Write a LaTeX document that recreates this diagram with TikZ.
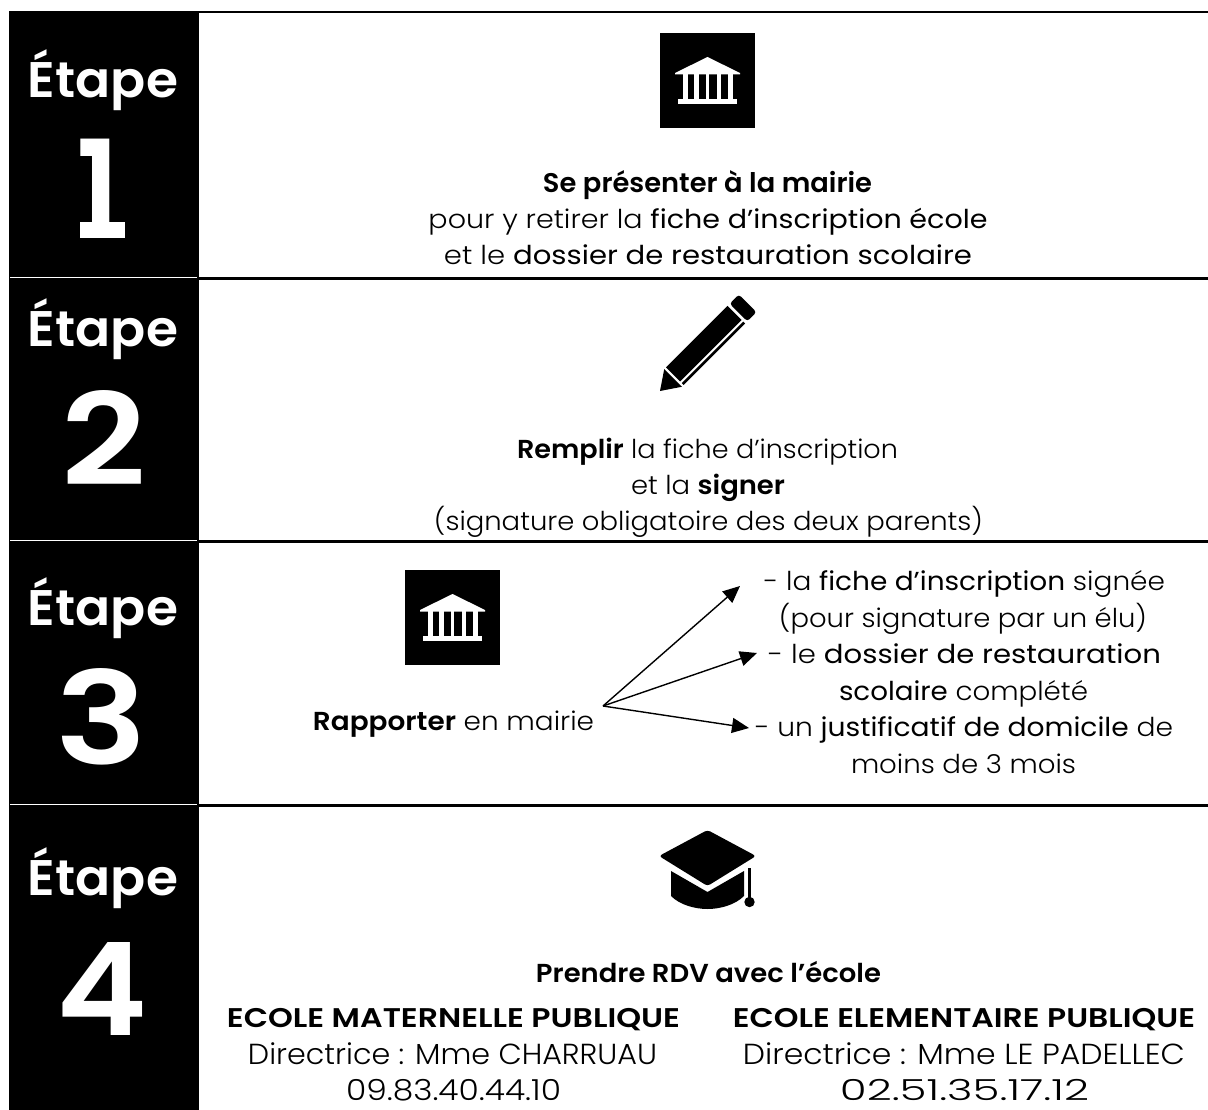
\documentclass[tikz,border=0pt]{standalone}
\usepackage{fontspec}
\usepackage{graphicx}
\setmainfont{Poppins Light}
\newfontfamily\fm{Poppins}
\newfontfamily\fs{Poppins SemiBold}
\newcommand{\M}[1]{{\fm #1}}
\newcommand{\B}[1]{{\fs #1}}
\newcommand{\fw}[2]{\resizebox{#1pt}{\height}{#2}}
\usetikzlibrary{arrows.meta}
\tikzset{
 x=1pt,y=-1pt,
 bar/.style={fill=black,draw=none},
 sep/.style={line width=3pt,black},
 step label/.style={anchor=base,text=white,font=\fs\fontsize{50}{50}\selectfont,inner sep=0pt},
 step digit/.style={anchor=base,text=white,font=\fs\fontsize{135}{135}\selectfont,inner sep=0pt},
 txt/.style={anchor=base,inner sep=0pt,font=\fontsize{26}{26}\selectfont,black},
 bigtxt/.style={txt,font=\fontsize{29}{29}\selectfont},
 ar/.style={line width=1.4pt,-{Triangle[length=17pt,width=15pt]}}
}
\newcommand{\temple}[2]{%
 \begin{scope}[shift={(#1,#2)}]
 \fill[black] (0,0) rectangle (95,95);
 \fill[white] (15,40) -- (47.5,24) -- (80,40) -- (80,41.5) -- (15,41.5) -- cycle;
 \foreach \xa/\xb in {23/28,34/39,46/49,57/61,68/73} {\fill[white] (\xa,41) rectangle (\xb,67);}
 \fill[white] (18,66) rectangle (77,71);
 \end{scope}}
\begin{document}
\begin{tikzpicture}
\useasboundingbox (0,0) rectangle (1208,1110);
\fill[white] (0,0) rectangle (1208,1110);
\fill[bar] (9,11) rectangle (199,1110);
\draw[white,line width=1pt] (10,278) -- (197,278);
\draw[white,line width=1pt] (10,540) -- (197,540);
\draw[white,line width=1pt] (10,804) -- (197,804);
\coordinate (tl) at (199,12);\coordinate (tr) at (1208,12);
\coordinate (al) at (199,279);\coordinate (ar1) at (1208,279);
\coordinate (bl) at (199,541);\coordinate (br) at (1208,541);
\coordinate (cl) at (199,805);\coordinate (cr) at (1208,805);
\draw[black,line width=2pt] (tl)--(tr);
\draw[sep] (al)--(ar1);
\draw[sep] (bl)--(br);
\draw[sep] (cl)--(cr);
\node[step label] (e1) at (103,98) {\fw{150}{Étape}};
\node[step digit] (d1) at (98.7,238) {\scalebox{0.89}[1]{1}};
\fill[white] (80,222) rectangle (125,238);
\node[step label] (e2) at (103,346) {\fw{150}{Étape}};
\node[step digit] (d2) at (104.3,485) {\resizebox{85pt}{95pt}{2}};
\node[step label] (e3) at (103,625) {\fw{150}{Étape}};
\node[step digit] (d3) at (102,764) {\resizebox{92pt}{96pt}{3}};
\node[step label] (e4) at (103,895) {\fw{150}{Étape}};
\node[step digit] (d4) at (102,1035) {\resizebox{91pt}{93pt}{4}};
\temple{660}{33}
\node[txt,font=\fontsize{27}{27}\selectfont] (t1a) at (707.5,193) {\fw{329}{\B{Se présenter à la mairie}}};
\node[txt] (t1b) at (708,229) {\fw{559}{pour y retirer la \M{fiche d’inscription école}}};
\node[txt] (t1c) at (708,265) {\fw{528}{et le \M{dossier de restauration scolaire}}};
% pencil
\begin{scope}[shift={(660,391)},rotate=45]
 \fill[black] (0,0) -- (18.5,-12.5) -- (18.5,12.5) -- cycle;
 \fill[black] (21,-12.5) rectangle (108,7.5);
 \fill[black] (21,9.8) rectangle (108,12.5);
 \fill[black,rounded corners=3pt] (111,-12.5) -- (124,-12.5) -- (124,12.5) -- (111,12.5) -- cycle;
\end{scope}
\node[txt] (t2a) at (707.5,458) {\fw{381}{\B{Remplir} la fiche d’inscription}};
\node[txt] (t2b) at (708,494) {\fw{154}{et la \B{signer}}};
\node[txt] (t2c) at (708.5,530) {\fw{549}{(signature obligatoire des deux parents)}};
\temple{405}{570}
\node[txt] (t3) at (453.5,730) {\fw{281}{\B{Rapporter} en mairie}};
\coordinate (o) at (603,706);
\coordinate (a1) at (740,586);
\coordinate (a2) at (757,653);
\coordinate (a3) at (749,728);
\draw[ar] (o)--(a1);
\draw[ar] (o)--(a2);
\draw[ar] (o)--(a3);
\node[txt] (r1) at (964.5,590) {\fw{401}{- la \M{fiche d’inscription} signée}};
\node[txt] (r2) at (963,627) {\fw{368}{(pour signature par un élu)}};
\node[txt] (r3) at (964.5,663) {\fw{393}{- le \M{dossier de restauration}}};
\node[txt] (r4) at (963.5,700) {\fw{249}{\M{scolaire} complété}};
\node[txt] (r5) at (964,736) {\fw{418}{- un \M{justificatif de domicile} de}};
\node[txt] (r6) at (963.5,773) {\fw{225}{moins de 3 mois}};
% cap
\begin{scope}[shift={(640,820)}]
 \fill[black,rounded corners=3pt] (19,36) -- (67.5,10) -- (116,36) -- (67.5,66) -- cycle;
 \fill[black] (31,51) -- (67.5,72) -- (104,51) -- (104,76) .. controls (95,85) and (80,89) .. (67.5,89) .. controls (55,89) and (40,85) .. (31,76) -- cycle;
 \fill[black] (108,48) rectangle (111.2,78);
 \fill[black] (109.5,82) circle (5.2);
\end{scope}
\node[txt] (t4) at (708.5,982) {\fw{345}{\B{Prendre RDV avec l’école}}};
\node[txt,font=\fontsize{27}{27}\selectfont] (m1) at (453.5,1027) {\fw{453}{\B{ECOLE MATERNELLE PUBLIQUE}}};
\node[bigtxt] (m2) at (452.5,1064) {\fw{409}{Directrice : Mme CHARRUAU}};
\node[bigtxt] (m3) at (453.5,1100) {\fw{215}{09.83.40.44.10}};
\node[txt,font=\fontsize{27}{27}\selectfont] (p1) at (964,1027) {\fw{462}{\B{ECOLE ELEMENTAIRE PUBLIQUE}}};
\node[bigtxt] (p2) at (964,1064) {\fw{442}{Directrice : Mme LE PADELLEC}};
\node[bigtxt] (p3) at (964.5,1100) {\fw{249}{02.51.35.17.12}};
\end{tikzpicture}
\end{document}
